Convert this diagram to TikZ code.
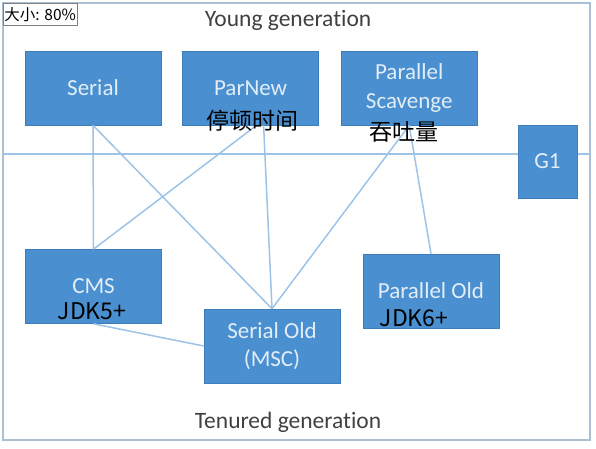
\documentclass[tikz,border=0pt]{standalone}
\usepackage{fontspec}
\setmainfont{Carlito}[Ligatures=NoCommon]
\newfontfamily\cjk{Noto Sans CJK SC}
\usetikzlibrary{positioning}
\definecolor{gcblue}{RGB}{74,144,208}
\definecolor{gcedge}{RGB}{62,124,186}
\definecolor{gctext}{RGB}{226,237,248}
\definecolor{gcline}{RGB}{157,195,230}
\definecolor{gcframe}{RGB}{172,192,212}
\definecolor{gcgray}{RGB}{64,64,64}
\begin{document}
\begin{tikzpicture}[x=1pt,y=-1pt,
        gc/.style={fill=gcblue,draw=gcedge,line width=0.6pt,text=gctext,align=center,
          inner sep=0pt,minimum width=136pt,minimum height=74pt,font=\fontsize{23}{28.5}\selectfont},
        gen/.style={text=gcgray,font=\fontsize{23.5}{28}\selectfont},
        link/.style={draw=gcline,line width=1.5pt},
        note/.style={inner sep=0pt,font=\cjk\fontsize{23}{23}\selectfont}]
        \useasboundingbox (0,0) rectangle (596,448);
        \draw[gcframe,line width=2pt] (3,3) rectangle (590,440);
        \draw[gcline,line width=2pt] (3,154) -- (590,154);
        \node[gen] (young) at (288,20) {Young generation};
        \node[gen] (tenured) at (288,422) {Tenured generation};
        \node[gc] (serial) at (93,88) {Serial};
        \node[gc,right=21pt of serial] (parnew) {ParNew};
        \node[gc,right=22pt of parnew] (ps) {Parallel\\Scavenge};
        \node[gc,minimum width=59pt,minimum height=73pt] (g1) at (547.5,161.5) {G1};
        \node[gc] (cms) at (93.5,286.5) {CMS};
        \node[gc] (serold) at (272,346) {Serial Old\\(MSC)};
        \node[gc] (parold) at (431,291) {Parallel Old};
        \draw[link] (serial.south) -- (cms.north);
        \draw[link] (serial.south) -- (serold.north);
        \draw[link] ([xshift=6pt]parnew.south) -- (cms.north);
        \draw[link] ([xshift=13pt]parnew.south) -- (serold.north);
        \draw[link] (ps.south) -- (serold.north);
        \draw[link] (ps.south) -- (parold.north);
        \draw[link] (cms.south) -- (serold.west);
        \node[note] (pause) at (252,121) {停顿时间};
        \node[note] (thru) at (404,132) {吞吐量};
        \node[note] (jdk5) at (92,311) {JDK5+};
        \node[note] (jdk6) at (414,318) {JDK6+};
        \node[draw=gray,fill=white,anchor=north west,minimum width=74pt,minimum height=22pt,
          inner sep=1pt,font=\cjk\fontsize{15.5}{15.5}\selectfont] (scale) at (3,3) {大小: 80\%};
        \end{tikzpicture}
\end{document}
